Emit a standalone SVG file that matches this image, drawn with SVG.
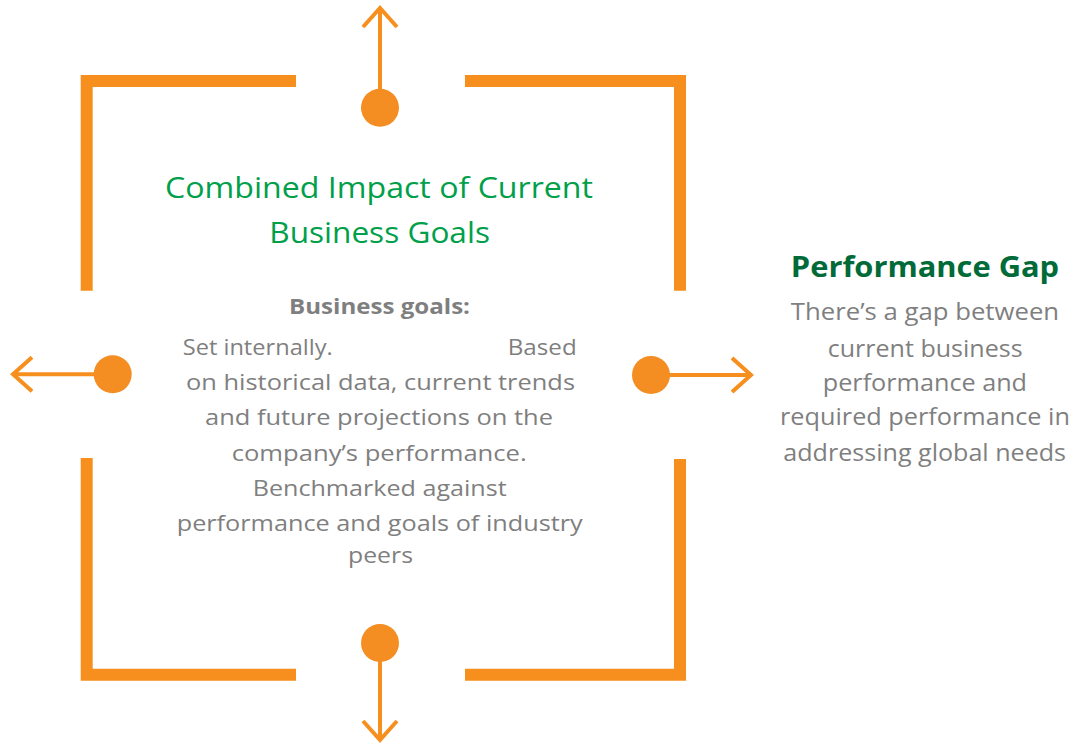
<svg xmlns="http://www.w3.org/2000/svg" width="1074" height="743" viewBox="0 0 1074 743">
  <style>
    .bracket { fill: none; stroke: #F78F1E; stroke-width: 12; stroke-linecap: butt; stroke-linejoin: miter; }
    .link { fill: none; stroke: #F78F1E; stroke-width: 4; marker-end: url(#chevron); }
    .dot { fill: #F48D22; }
    .title { font-family: "Open Sans", "Liberation Sans", sans-serif; font-size: 29px; fill: #00A04B; text-anchor: middle; }
    .head { font-family: "Open Sans", "Liberation Sans", sans-serif; font-size: 29px; font-weight: bold; fill: #006B38; text-anchor: middle; }
    .sub { font-family: "Open Sans", "Liberation Sans", sans-serif; font-size: 21px; font-weight: bold; fill: #7F7F7F; text-anchor: middle; }
    .body { font-family: "Open Sans", "Liberation Sans", sans-serif; font-size: 22px; fill: #7F7F7F; text-anchor: middle; }
    .side { font-family: "Open Sans", "Liberation Sans", sans-serif; font-size: 23px; fill: #7F7F7F; text-anchor: middle; }
  </style>
  <defs>
    <marker id="chevron" markerUnits="userSpaceOnUse" viewBox="-24 -22 30 44" refX="0" refY="0" markerWidth="30" markerHeight="44" orient="auto">
      <path d="M-19,-17 L0,0 L-19,17" fill="none" stroke="#F78F1E" stroke-width="4" stroke-linejoin="miter"/>
    </marker>
  </defs>

  <!-- square frame made of four corner brackets -->
  <g id="frame">
    <path class="bracket" d="M86.7,290.7 L86.7,81 L296,81"/>
    <path class="bracket" d="M465,81 L680,81 L680,290.7"/>
    <path class="bracket" d="M86.7,458 L86.7,674.7 L296,674.7"/>
    <path class="bracket" d="M465,674.7 L680,674.7 L680,459"/>
  </g>

  <!-- centre node: goals title and description -->
  <g id="business-goals">
    <text class="title" x="379" y="198.3" textLength="428" lengthAdjust="spacingAndGlyphs">Combined Impact of Current</text>
    <text class="title" x="379.6" y="243.3" textLength="220.7" lengthAdjust="spacingAndGlyphs">Business Goals</text>
    <text class="sub" x="379.5" y="313.5" textLength="181" lengthAdjust="spacingAndGlyphs">Business goals:</text>
    <text class="body" x="182.7" y="355" style="text-anchor:start" textLength="150" lengthAdjust="spacingAndGlyphs">Set internally.</text>
    <text class="body" x="576.7" y="355" style="text-anchor:end" textLength="69" lengthAdjust="spacingAndGlyphs">Based</text>
    <text class="body" x="380.5" y="390" textLength="389" lengthAdjust="spacingAndGlyphs">on historical data, current trends</text>
    <text class="body" x="379" y="425" textLength="348" lengthAdjust="spacingAndGlyphs">and future projections on the</text>
    <text class="body" x="379.2" y="460.5" textLength="295" lengthAdjust="spacingAndGlyphs">company’s performance.</text>
    <text class="body" x="379.7" y="495.5" textLength="254" lengthAdjust="spacingAndGlyphs">Benchmarked against</text>
    <text class="body" x="379.7" y="530.5" textLength="406" lengthAdjust="spacingAndGlyphs">performance and goals of industry</text>
    <text class="body" x="380.5" y="563" textLength="65" lengthAdjust="spacingAndGlyphs">peers</text>
  </g>

  <!-- right node: performance gap -->
  <g id="performance-gap">
    <text class="head" x="925" y="276.7" textLength="268.3" lengthAdjust="spacingAndGlyphs">Performance Gap</text>
    <text class="side" x="925" y="320" textLength="268.3" lengthAdjust="spacingAndGlyphs">There’s a gap between</text>
    <text class="side" x="925.2" y="356.7" textLength="195" lengthAdjust="spacingAndGlyphs">current business</text>
    <text class="side" x="924.9" y="390.7" textLength="204.3" lengthAdjust="spacingAndGlyphs">performance and</text>
    <text class="side" x="925" y="425" textLength="290" lengthAdjust="spacingAndGlyphs">required performance in</text>
    <text class="side" x="924.7" y="460.7" textLength="282.7" lengthAdjust="spacingAndGlyphs">addressing global needs</text>
  </g>

  <!-- connectors: dots on each side with outward arrows -->
  <g id="connectors">
    <path class="link" d="M380,107.7 L380,8"/>
    <path class="link" d="M112.7,374.3 L13,374.3"/>
    <path class="link" d="M651,375 L751,375"/>
    <path class="link" d="M380,643 L380,740"/>
    <circle class="dot" cx="380" cy="107.7" r="19"/>
    <circle class="dot" cx="112.7" cy="374.3" r="19"/>
    <circle class="dot" cx="651" cy="375" r="19"/>
    <circle class="dot" cx="380" cy="643" r="19"/>
  </g>
</svg>
